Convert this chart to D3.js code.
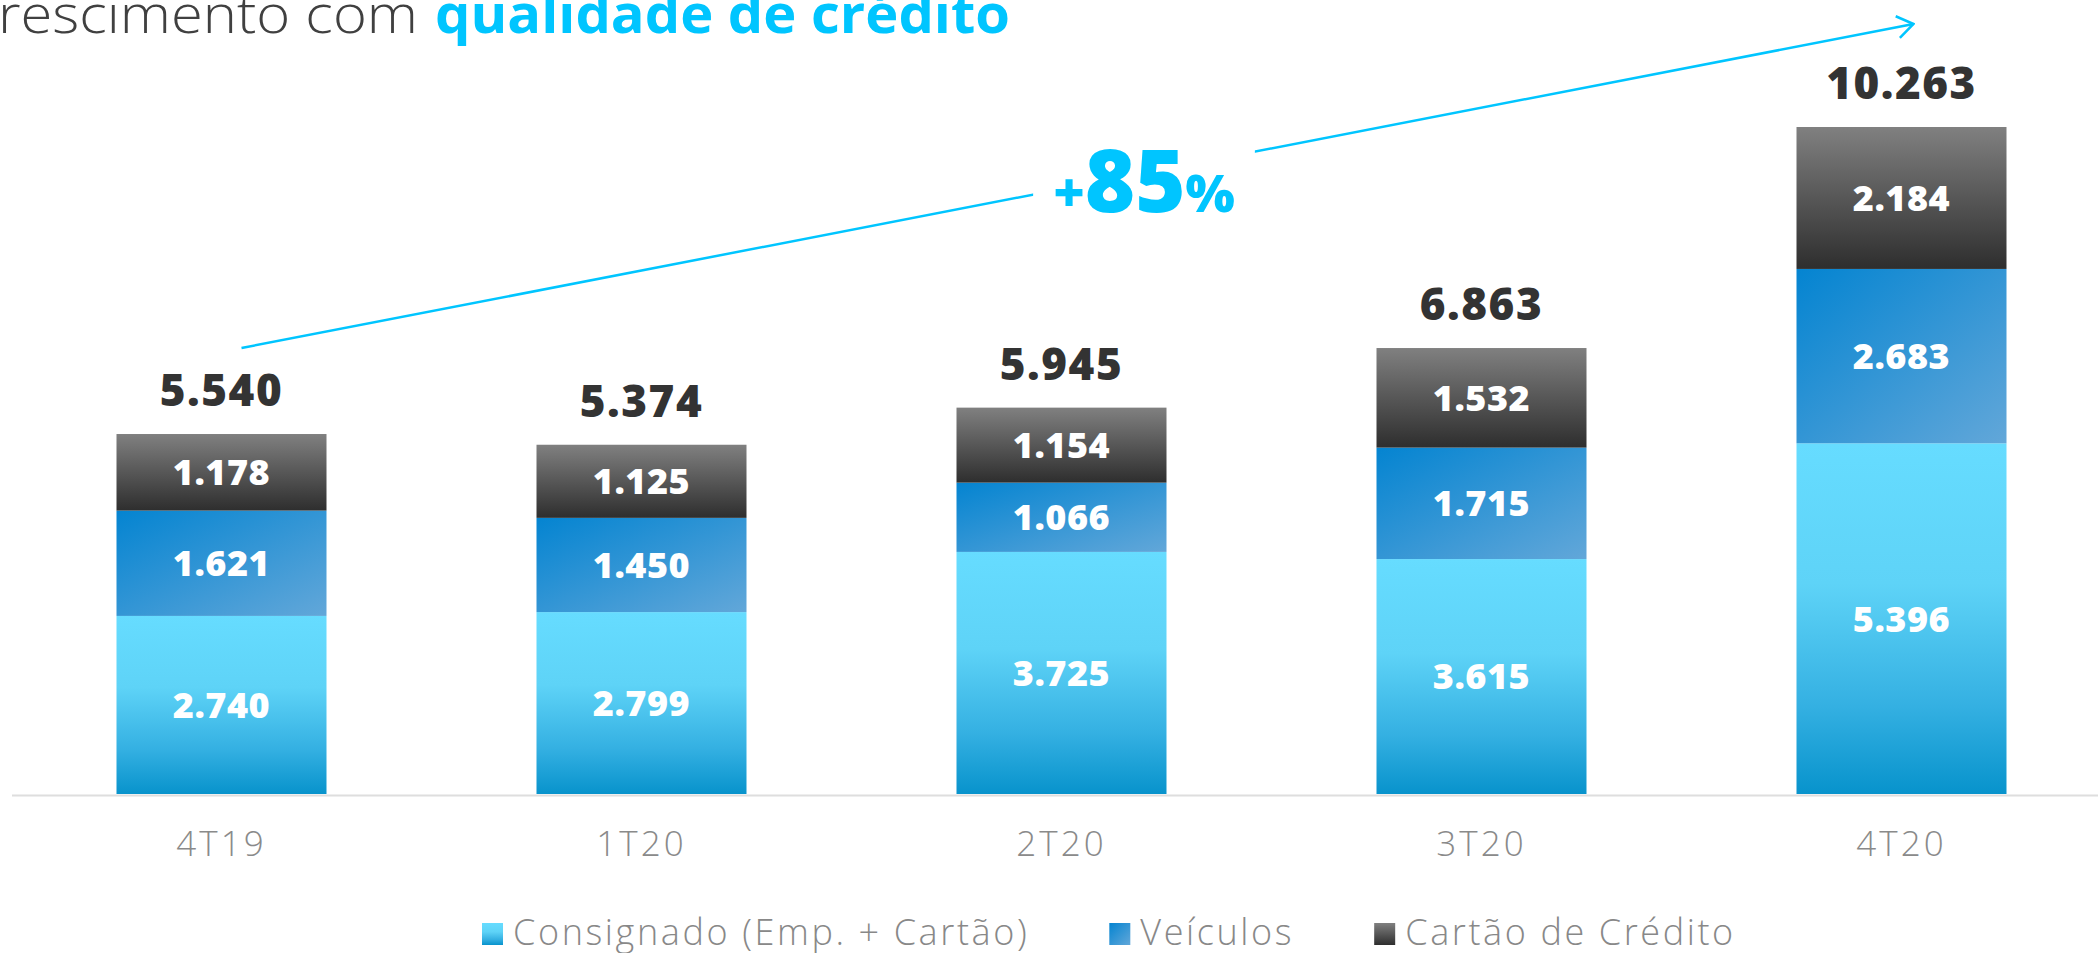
<!DOCTYPE html>
<html>
<head>
  <script src="https://cdnjs.cloudflare.com/ajax/libs/d3/7.8.5/d3.min.js" type="text/javascript"></script>
  <style>
    body { margin: 0; background: #fff; }
    svg { display: block; font-family: "Open Sans", Lato, sans-serif; }
  </style>
</head>
<body>
  <svg id="chart" width="2098" height="953"></svg>
  <script>

    var categories = ["4T19", "1T20", "2T20", "3T20", "4T20"];
    var consignado = [2740, 2799, 3725, 3615, 5396];
    var veiculos = [1621, 1450, 1066, 1715, 2683];
    var cartao = [1178, 1125, 1154, 1532, 2184];
    var totals = [5540, 5374, 5945, 6863, 10263];
    var seriesNames = ["Consignado (Emp. + Cartão)", "Veículos", "Cartão de Crédito"];
    var growthLabel = ["+", "85", "%"];

    var fmt = d3.formatLocale({decimal: ",", thousands: ".", grouping: [3], currency: ["R$", ""]}).format(",d");

    var svg = d3.select("#chart");
    var defs = svg.append("defs");

    // gradients like the slide
    var g1 = defs.append("linearGradient").attr("id", "gCons").attr("x1", 0).attr("y1", 0).attr("x2", 0).attr("y2", 1);
    g1.append("stop").attr("offset", "0").attr("stop-color", "#66dcff");
    g1.append("stop").attr("offset", "0.4").attr("stop-color", "#5ed3f7");
    g1.append("stop").attr("offset", "0.75").attr("stop-color", "#34b0e2");
    g1.append("stop").attr("offset", "1").attr("stop-color", "#0893cc");

    var g2 = defs.append("linearGradient").attr("id", "gVeh").attr("x1", 0).attr("y1", 0).attr("x2", 1).attr("y2", 1);
    g2.append("stop").attr("offset", "0").attr("stop-color", "#0484d1");
    g2.append("stop").attr("offset", "1").attr("stop-color", "#62a7d9");

    var g3 = defs.append("linearGradient").attr("id", "gCart").attr("x1", 0).attr("y1", 0).attr("x2", 0).attr("y2", 1);
    g3.append("stop").attr("offset", "0").attr("stop-color", "#808080");
    g3.append("stop").attr("offset", "1").attr("stop-color", "#2e2e2e");

    var fills = ["url(#gCons)", "url(#gVeh)", "url(#gCart)"];

    var rows = categories.map(function(c, i) {
      return {cat: c, cons: consignado[i], veh: veiculos[i], cart: cartao[i], total: totals[i]};
    });

    var x = d3.scaleBand()
      .domain(categories)
      .range([11.5, 2111.5])
      .paddingInner(0.5)
      .paddingOuter(0.25);

    var y = d3.scaleLinear()
      .domain([0, d3.max(rows, d => d.cons + d.veh + d.cart)])
      .range([794, 127]);

    var stack = d3.stack().keys(["cons", "veh", "cart"]);
    var layers = stack(rows);

    // title (the slide crops the first letter)
    var title = svg.append("g");
    title.append("text")
      .attr("x", 418).attr("y", 33)
      .attr("text-anchor", "end")
      .attr("textLength", 456)
      .attr("lengthAdjust", "spacingAndGlyphs")
      .style("font-size", "54px")
      .style("font-weight", 300)
      .style("fill", "#404040")
      .text("Crescimento com");
    title.append("text")
      .attr("x", 435).attr("y", 33)
      .attr("textLength", 575)
      .attr("lengthAdjust", "spacingAndGlyphs")
      .style("font-size", "54px")
      .style("font-weight", 700)
      .style("fill", "#00c5ff")
      .text("qualidade de crédito");

    // axis
    var axis = svg.append("g")
      .attr("transform", "translate(0,795)")
      .call(d3.axisBottom(x).tickSize(0).tickSizeOuter(0));
    axis.select(".domain").style("stroke", "#dedede").style("stroke-width", 2);
    axis.selectAll("text")
      .attr("y", 61).attr("dy", 0)
      .style("font-family", "'Open Sans', sans-serif")
      .style("font-size", "35px")
      .style("font-weight", 300)
      .style("letter-spacing", "3px")
      .style("fill", "#8a8a8a");

    // bars
    var layerG = svg.selectAll(".layer")
      .data(layers)
      .enter().append("g")
      .attr("class", "layer")
      .style("fill", (d, i) => fills[i]);

    layerG.selectAll("rect")
      .data(d => d)
      .enter().append("rect")
      .attr("x", d => x(d.data.cat))
      .attr("width", x.bandwidth())
      .attr("y", d => y(d[1]))
      .attr("height", d => y(d[0]) - y(d[1]));

    // segment labels show the reported values
    layerG.each(function(layer, li) {
      var vals = [consignado, veiculos, cartao][li];
      d3.select(this).selectAll("text")
        .data(layer)
        .enter().append("text")
        .attr("x", d => x(d.data.cat) + x.bandwidth() / 2)
        .attr("y", d => (y(d[0]) + y(d[1])) / 2)
        .attr("dy", "0.36em")
        .attr("text-anchor", "middle")
        .style("fill", "#fff")
        .style("font-size", "36px")
        .style("font-weight", 800)
        .style("letter-spacing", "0.5px")
        .text((d, i) => fmt(vals[i]));
    });

    // totals
    svg.selectAll(".total")
      .data(rows)
      .enter().append("text")
      .attr("class", "total")
      .attr("x", d => x(d.cat) + x.bandwidth() / 2)
      .attr("y", d => y(d.cons + d.veh + d.cart) - 28)
      .attr("text-anchor", "middle")
      .style("fill", "#333")
      .style("font-size", "44px")
      .style("font-weight", 800)
      .style("letter-spacing", "1.5px")
      .text(d => fmt(d.total));

    // growth arrow
    defs.append("marker")
      .attr("id", "arrowHead")
      .attr("markerUnits", "userSpaceOnUse")
      .attr("viewBox", "0 0 20 24")
      .attr("refX", 18).attr("refY", 12)
      .attr("markerWidth", 20).attr("markerHeight", 24)
      .attr("orient", "auto")
      .append("path")
      .attr("d", "M2,1 L18,12 L2,23")
      .style("fill", "none")
      .style("stroke", "#00c5ff")
      .style("stroke-width", 2.5);

    var first = rows[0], last = rows[rows.length - 1];
    var x0 = x(first.cat) + x.bandwidth() / 2 + 20, y0 = y(first.cons + first.veh + first.cart) - 86;
    var x1 = x(last.cat) + x.bandwidth() / 2 + 12, y1 = y(last.cons + last.veh + last.cart) - 103;

    svg.append("line")
      .attr("x1", x0).attr("y1", y0)
      .attr("x2", x1).attr("y2", y1)
      .style("stroke", "#00c5ff")
      .style("stroke-width", 2.5)
      .attr("marker-end", "url(#arrowHead)");

    var gapRect = svg.append("rect").style("fill", "#fff");
    var growth = svg.append("text")
      .attr("x", 1144).attr("y", 212)
      .attr("text-anchor", "middle")
      .style("fill", "#00c5ff")
      .style("font-weight", 800);
    growth.append("tspan").style("font-size", "54px").text(growthLabel[0]);
    growth.append("tspan").style("font-size", "86px").text(growthLabel[1]);
    growth.append("tspan").style("font-size", "52px").text(growthLabel[2]);
    var bb = growth.node().getBBox();
    gapRect.attr("x", bb.x - 20).attr("y", bb.y - 10).attr("width", bb.width + 40).attr("height", bb.height + 20);

    // legend
    var legend = svg.append("g").attr("transform", "translate(482,945)");
    var lx = 0;
    seriesNames.forEach(function(name, i) {
      legend.append("rect")
        .attr("x", lx).attr("y", -22)
        .attr("width", 21).attr("height", 22)
        .style("fill", fills[i]);
      var t = legend.append("text")
        .attr("x", lx + 31).attr("y", 0)
        .style("font-size", "36px")
        .style("font-weight", 300)
        .style("letter-spacing", "2.6px")
        .style("fill", "#888")
        .text(name);
      lx += 31 + t.node().getComputedTextLength() + 80;
    });
  </script>
</body>
</html>
